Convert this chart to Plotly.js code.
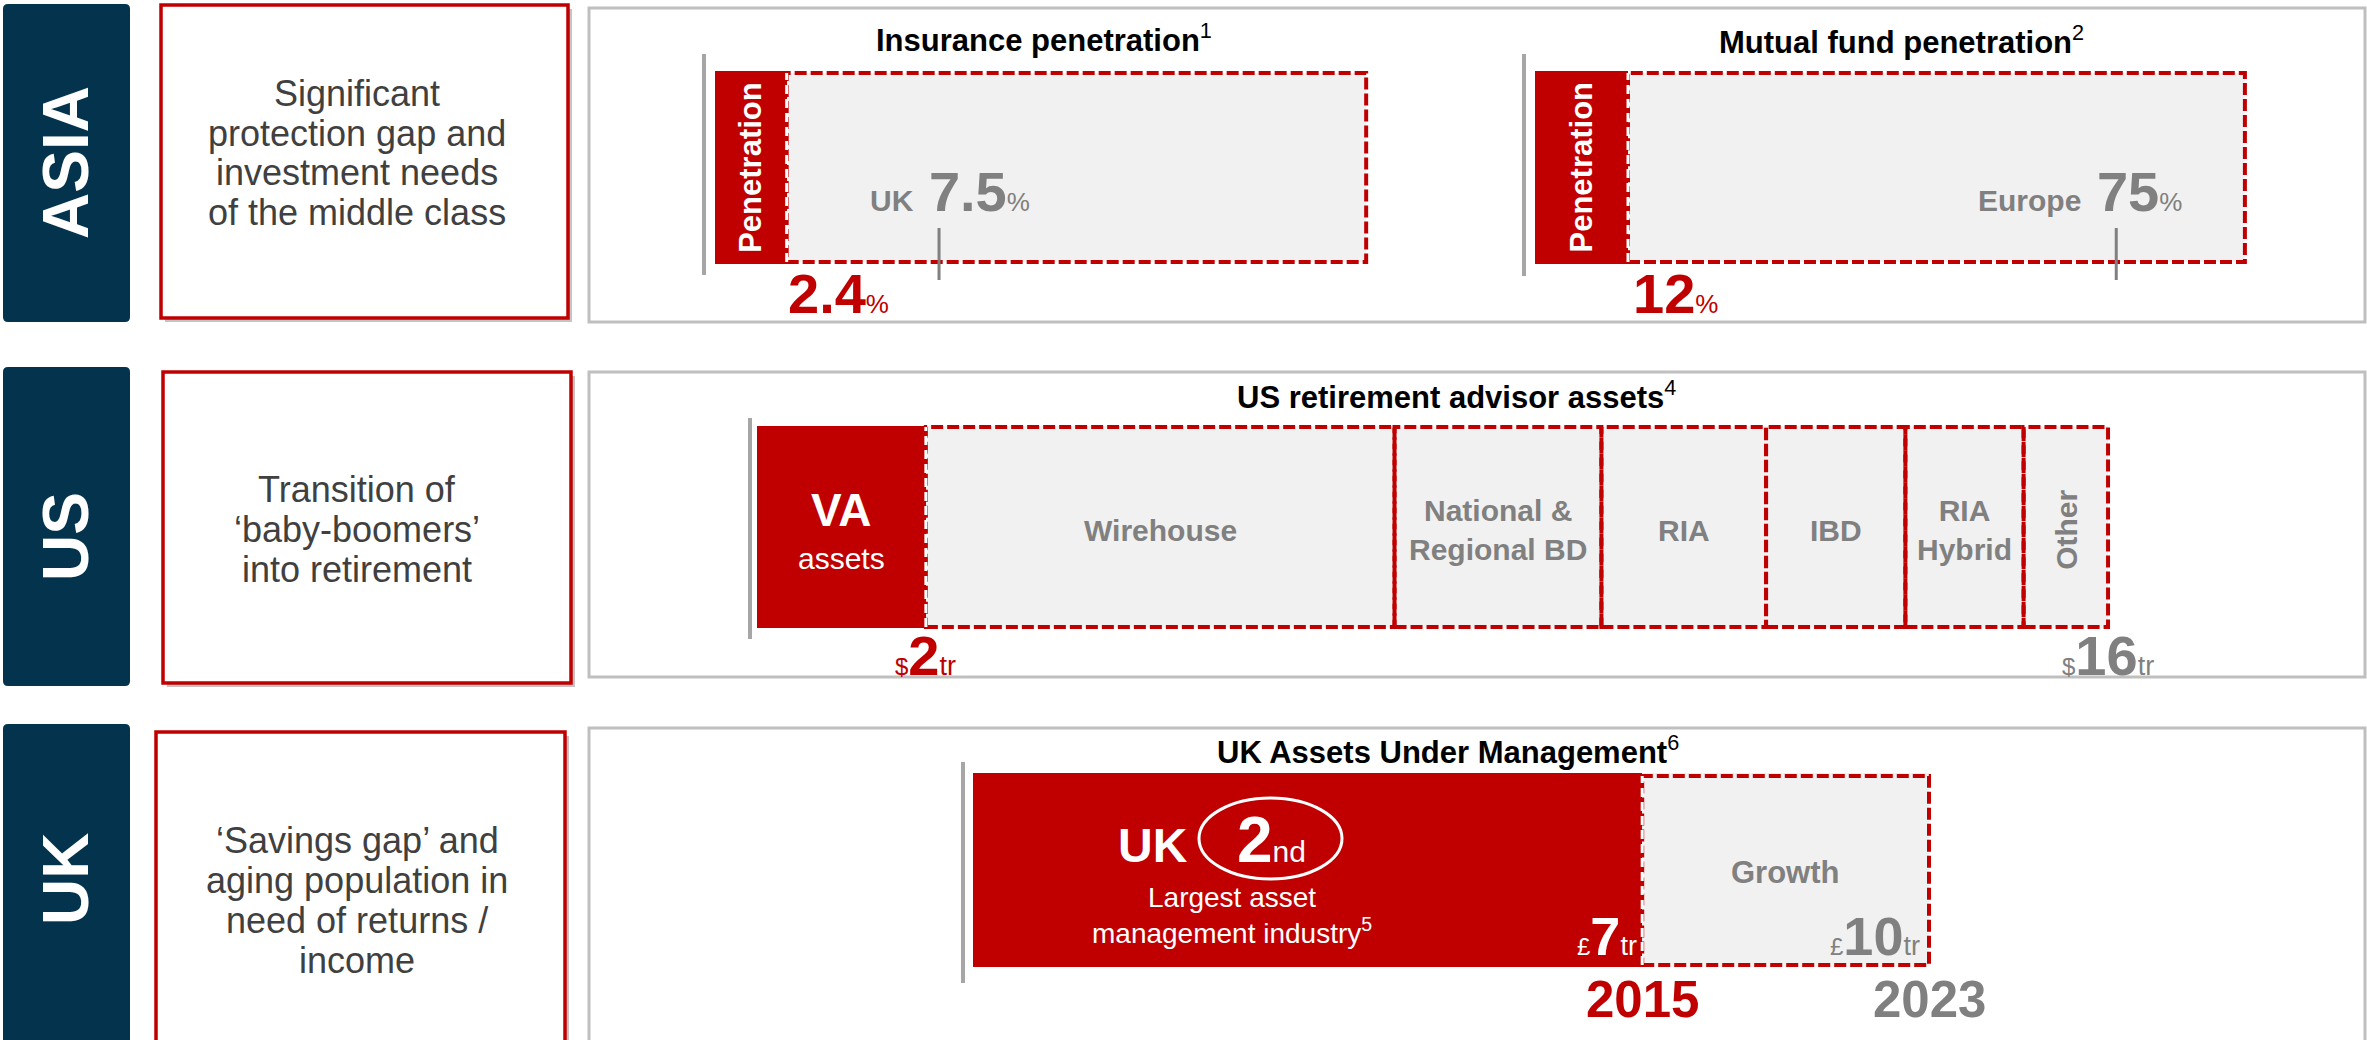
<!DOCTYPE html>
<html><head><meta charset="utf-8">
<script src="https://cdn.plot.ly/plotly-3.0.1.min.js"></script>
<style>html,body{margin:0;padding:0;background:#fff;overflow:hidden}#chart{width:2367px;height:1040px}</style>
</head><body><div id="chart"></div>
<script>
// ---------------- DATA ----------------
const regions = ['ASIA', 'US', 'UK'];
const regionThemes = [
  ['Significant', 'protection gap and', 'investment needs', 'of the middle class'],
  ['Transition of', '\u2018baby-boomers\u2019', 'into retirement'],
  ['\u2018Savings gap\u2019 and', 'aging population in', 'need of returns /', 'income']
];
const chartTitles = ['Insurance penetration', 'Mutual fund penetration', 'US retirement advisor assets', 'UK Assets Under Management'];
const chartNotes = ['1', '2', '4', '6'];
const insuranceLabels = ['Asia', 'UK'];
const insurancePenetration = [2.4, 7.5];     // %
const mutualFundLabels = ['Asia', 'Europe'];
const mutualFundPenetration = [12, 75];      // %
const usVaLabel = 'VA';
const usVaAssets = [2];                      // $tr
const usChannels = ['Wirehouse', 'National &<br>Regional BD', 'RIA', 'IBD', 'RIA<br>Hybrid', 'Other'];
const usChannelAssets = [5.55, 2.45, 1.95, 1.65, 1.4, 1.0];  // $tr
const ukYears = ['2015', '2023'];
const ukAum = [7, 10];                       // £tr

// ---------------- LAYOUT HELPERS ----------------
const W = 2367, H = 1040;
const fx = p => p / W, fy = p => 1 - p / H;
const RED = '#C00000', NAVY = '#04334E', GRAYTXT = '#808080', DARK = '#404040', FILL = '#F1F1F1';
const AXGRAY = '#A6A6A6', PANEL = '#BFBFBF';
const FONT = 'Liberation Sans, Arial, Helvetica, sans-serif';
const DASH = '12px,4px';
const DW = 4;

// chart geometry (pixels): position of value 0, pixels per unit, axis max, bar top/bottom
const G = {
  ins: {x0: 715, ppu: 29.87, max: 22.2, top: 71, bot: 264, boxEnd: 21.8},
  mf:  {x0: 1535, ppu: 7.75, max: 93.0, top: 71, bot: 264, boxEnd: 91.6},
  us:  {x0: 757, ppu: 84.44, max: 16.15, top: 426, bot: 628},
  uk:  {x0: 973, ppu: 95.6, max: 10.1, top: 773, bot: 967}
};
function xAx(c, anchor) {
  return {domain: [fx(c.x0), fx(c.x0 + c.ppu * c.max)], range: [0, c.max], visible: false, fixedrange: true, anchor: anchor};
}
function yAx(c, anchor) {
  return {domain: [fy(c.bot), fy(c.top)], range: [-0.5, 0.5], type: 'category', visible: false, fixedrange: true, anchor: anchor};
}

// ---------------- TRACES ----------------
const usBase = [];
{ let acc = usVaAssets[0]; usChannelAssets.forEach(v => { usBase.push(acc); acc += v; }); }
const usTotal = usVaAssets[0] + usChannelAssets.reduce((a, b) => a + b, 0);

const bar = (o) => Object.assign({type: 'bar', orientation: 'h', hoverinfo: 'skip', marker: {line: {width: 0}}}, o);
const traces = [
  bar({name: 'Insurance', xaxis: 'x', yaxis: 'y', y: [insuranceLabels[0]], x: [insurancePenetration[0]], base: [0], marker: {color: RED, line: {width: 0}}}),
  bar({name: 'Mutual fund', xaxis: 'x2', yaxis: 'y2', y: [mutualFundLabels[0]], x: [mutualFundPenetration[0]], base: [0], marker: {color: RED, line: {width: 0}}}),
  bar({name: 'US channels', xaxis: 'x3', yaxis: 'y3', y: usChannels.map(() => 'US'), x: usChannelAssets, base: usBase, marker: {color: FILL, line: {width: 0}}}),
  bar({name: 'VA assets', xaxis: 'x3', yaxis: 'y3', y: ['US'], x: usVaAssets, base: [0], marker: {color: RED, line: {width: 0}}}),
  bar({name: ukYears[0], xaxis: 'x4', yaxis: 'y4', y: ['UK'], x: [ukAum[0]], base: [0], marker: {color: RED, line: {width: 0}}}),
  bar({name: 'Growth', xaxis: 'x4', yaxis: 'y4', y: ['UK'], x: [ukAum[1] - ukAum[0]], base: [ukAum[0]], marker: {color: FILL, line: {width: 0}}})
];

// ---------------- SHAPES ----------------
const shapes = [];
function rectP(x0, y0, x1, y1, o) {
  shapes.push(Object.assign({type: 'rect', xref: 'paper', yref: 'paper', x0: fx(x0), x1: fx(x1), y0: fy(y1), y1: fy(y0), layer: 'below'}, o));
}
function roundPath(x0, y0, x1, y1, r) {
  const X = v => fx(v).toFixed(6), Y = v => fy(v).toFixed(6);
  return `M ${X(x0 + r)},${Y(y0)} L ${X(x1 - r)},${Y(y0)} Q ${X(x1)},${Y(y0)} ${X(x1)},${Y(y0 + r)} ` +
         `L ${X(x1)},${Y(y1 - r)} Q ${X(x1)},${Y(y1)} ${X(x1 - r)},${Y(y1)} L ${X(x0 + r)},${Y(y1)} ` +
         `Q ${X(x0)},${Y(y1)} ${X(x0)},${Y(y1 - r)} L ${X(x0)},${Y(y0 + r)} Q ${X(x0)},${Y(y0)} ${X(x0 + r)},${Y(y0)} Z`;
}
// right-hand panels
rectP(589, 8, 2365, 322, {fillcolor: '#fff', line: {color: PANEL, width: 3}});
rectP(589, 372, 2365, 677, {fillcolor: '#fff', line: {color: PANEL, width: 3}});
rectP(589, 728, 2365, 1070, {fillcolor: '#fff', line: {color: PANEL, width: 3}});
// theme boxes with shadow
const themeBoxes = [[161, 5, 568, 318], [163, 372, 571, 683], [156, 732, 565, 1070]];
themeBoxes.forEach(b => {
  rectP(b[0] + 4, b[1] + 4, b[2] + 4, b[3] + 4, {fillcolor: '#C4C4C4', line: {width: 0}});
  rectP(b[0], b[1], b[2], b[3], {fillcolor: '#fff', line: {color: RED, width: 3.5}});
});
// navy region tabs
[[3, 4, 130, 322], [3, 367, 130, 686], [3, 724, 130, 1080]].forEach(b => {
  shapes.push({type: 'path', xref: 'paper', yref: 'paper', path: roundPath(b[0], b[1], b[2], b[3], 5), fillcolor: NAVY, line: {width: 0}, layer: 'below'});
});
// axis baselines
[[704, 54, 275], [1524, 54, 276], [750, 418, 639], [963, 762, 983]].forEach(a => {
  shapes.push({type: 'line', xref: 'paper', yref: 'paper', x0: fx(a[0]), x1: fx(a[0]), y0: fy(a[2]), y1: fy(a[1]), line: {color: AXGRAY, width: 4}, layer: 'below'});
});
// potential boxes for penetration charts
shapes.push({type: 'rect', xref: 'x', yref: 'paper', x0: insurancePenetration[0], x1: G.ins.boxEnd, y0: fy(262), y1: fy(73), fillcolor: FILL, line: {color: RED, width: DW, dash: DASH}, layer: 'below'});
shapes.push({type: 'rect', xref: 'x2', yref: 'paper', x0: mutualFundPenetration[0], x1: G.mf.boxEnd, y0: fy(262), y1: fy(73), fillcolor: FILL, line: {color: RED, width: DW, dash: DASH}, layer: 'below'});
// benchmark ticks
shapes.push({type: 'line', xref: 'x', yref: 'paper', x0: insurancePenetration[1], x1: insurancePenetration[1], y0: fy(280), y1: fy(228), line: {color: GRAYTXT, width: 3}, layer: 'above'});
shapes.push({type: 'line', xref: 'x2', yref: 'paper', x0: mutualFundPenetration[1], x1: mutualFundPenetration[1], y0: fy(280), y1: fy(228), line: {color: GRAYTXT, width: 3}, layer: 'above'});
// US channel dashed outlines
usChannelAssets.forEach((v, i) => {
  shapes.push({type: 'rect', xref: 'x3', yref: 'paper', x0: usBase[i], x1: usBase[i] + v, y0: fy(627), y1: fy(427), fillcolor: 'rgba(0,0,0,0)', line: {color: RED, width: DW, dash: DASH}, layer: 'above'});
});
// UK growth outline
shapes.push({type: 'rect', xref: 'x4', yref: 'paper', x0: ukAum[0], x1: ukAum[1], y0: fy(965), y1: fy(776), fillcolor: 'rgba(0,0,0,0)', line: {color: RED, width: DW, dash: DASH}, layer: 'above'});
// white dashed boundaries at red bar ends
[['x', insurancePenetration[0], 73, 262], ['x2', mutualFundPenetration[0], 73, 262], ['x3', usVaAssets[0], 427, 627], ['x4', ukAum[0], 776, 965]].forEach(b => {
  shapes.push({type: 'line', xref: b[0], yref: 'paper', x0: b[1], x1: b[1], y0: fy(b[3]), y1: fy(b[2]), line: {color: '#fff', width: 3, dash: '9px,5px'}, layer: 'above'});
});
// ellipse around "2nd"
shapes.push({type: 'circle', xref: 'paper', yref: 'paper', x0: fx(1199), x1: fx(1342), y0: fy(879), y1: fy(798), line: {color: '#fff', width: 3}, fillcolor: 'rgba(0,0,0,0)', layer: 'above'});

// ---------------- ANNOTATIONS ----------------
const ann = [];
function A(o, size, color) {
  ann.push(Object.assign({showarrow: false, borderpad: 0, xanchor: 'center', yanchor: 'middle', font: {family: FONT, size: size, color: color}}, o));
}
const P = (xp, yp) => ({xref: 'paper', yref: 'paper', x: fx(xp), y: fy(yp)});

// region tabs
const regionLabelY = [163, 537, 879];
regions.forEach((r, i) => A(Object.assign(P(66, regionLabelY[i]), {text: '<b>' + r + '</b>', textangle: -90}), 64, '#ffffff'));
// themes
const themeFirstY = [93, 489, 840];
regionThemes.forEach((lines, i) => lines.forEach((t, j) => A(Object.assign(P(357, themeFirstY[i] + 40 * j), {text: t}), 36, DARK)));
// chart titles
const titlePos = [[1044, 38], [1901, 40], [1456, 395], [1448, 750]];
chartTitles.forEach((t, i) => A(Object.assign(P(titlePos[i][0], titlePos[i][1]), {text: '<b>' + t + '</b><sup>' + chartNotes[i] + '</sup>'}), 31, '#000000'));

// insurance
A({xref: 'x', yref: 'paper', x: insurancePenetration[0] / 2, y: fy(167), text: '<b>Penetration</b>', textangle: -90}, 31, '#ffffff');
A({xref: 'x', yref: 'paper', x: insurancePenetration[1], xshift: 11, y: fy(191),
   text: '<b><span style="font-size:30px">' + insuranceLabels[1] + '</span> ' + insurancePenetration[1].toFixed(1) + '</b><span style="font-size:26px">%</span>'}, 56, GRAYTXT);
A({xref: 'x', yref: 'paper', x: insurancePenetration[0], xanchor: 'left', y: fy(293),
   text: '<b>' + insurancePenetration[0].toFixed(1) + '</b><span style="font-size:26px">%</span>'}, 56, RED);
// mutual fund
A({xref: 'x2', yref: 'paper', x: mutualFundPenetration[0] / 2, y: fy(167), text: '<b>Penetration</b>', textangle: -90}, 31, '#ffffff');
A({xref: 'x2', yref: 'paper', x: mutualFundPenetration[1], xshift: -36, y: fy(191),
   text: '<b><span style="font-size:30px">' + mutualFundLabels[1] + '</span> ' + mutualFundPenetration[1] + '</b><span style="font-size:26px">%</span>'}, 56, GRAYTXT);
A({xref: 'x2', yref: 'paper', x: mutualFundPenetration[0], xanchor: 'left', xshift: 4, y: fy(293),
   text: '<b>' + mutualFundPenetration[0] + '</b><span style="font-size:26px">%</span>'}, 56, RED);

// US
A({xref: 'x3', yref: 'paper', x: usVaAssets[0] / 2, y: fy(510), text: '<b>' + usVaLabel + '</b>'}, 46, '#ffffff');
A({xref: 'x3', yref: 'paper', x: usVaAssets[0] / 2, y: fy(558), text: 'assets'}, 30, '#ffffff');
usChannels.forEach((c, i) => {
  const isOther = c === 'Other';
  A({xref: 'x3', yref: 'paper', x: usBase[i] + usChannelAssets[i] / 2, y: fy(530), text: '<b>' + c + '</b>', textangle: isOther ? -90 : 0}, 30, GRAYTXT);
});
const money = (cur, num, unit) => '<span style="font-size:24px">' + cur + '</span><b>' + num + '</b><span style="font-size:27px">' + unit + '</span>';
A({xref: 'x3', yref: 'paper', x: usVaAssets[0], y: fy(655), text: money('$', usVaAssets[0], 'tr')}, 56, RED);
A({xref: 'x3', yref: 'paper', x: usTotal, y: fy(655), text: money('$', usTotal, 'tr')}, 56, GRAYTXT);

// UK
A(Object.assign(P(1153, 845), {text: '<b>UK</b>'}), 48, '#ffffff');
A(Object.assign(P(1271, 840), {text: '<b>2</b><span style="font-size:30px">nd</span>'}), 64, '#ffffff');
A(Object.assign(P(1232, 897), {text: 'Largest asset'}), 28, '#ffffff');
A(Object.assign(P(1232, 931), {text: 'management industry<sup>5</sup>'}), 28, '#ffffff');
A({xref: 'x4', yref: 'paper', x: ukAum[0], xanchor: 'right', xshift: -4, y: fy(936), text: money('£', ukAum[0], 'tr')}, 54, '#ffffff');
A({xref: 'x4', yref: 'paper', x: ukAum[1], xanchor: 'right', xshift: -8, y: fy(936), text: money('£', ukAum[1], 'tr')}, 54, GRAYTXT);
A({xref: 'x4', yref: 'paper', x: (ukAum[0] + ukAum[1]) / 2, y: fy(872), text: '<b>Growth</b>'}, 31, GRAYTXT);
A({xref: 'x4', yref: 'paper', x: ukAum[0], y: fy(999), text: '<b>' + ukYears[0] + '</b>'}, 51, RED);
A({xref: 'x4', yref: 'paper', x: ukAum[1], y: fy(999), text: '<b>' + ukYears[1] + '</b>'}, 51, GRAYTXT);

// ---------------- LAYOUT ----------------
const layout = {
  width: W, height: H,
  margin: {l: 0, r: 0, t: 0, b: 0, pad: 0},
  paper_bgcolor: '#ffffff', plot_bgcolor: 'rgba(0,0,0,0)',
  showlegend: false, hovermode: false,
  barmode: 'overlay', bargap: 0,
  font: {family: FONT},
  xaxis: xAx(G.ins, 'y'), yaxis: yAx(G.ins, 'x'),
  xaxis2: xAx(G.mf, 'y2'), yaxis2: yAx(G.mf, 'x2'),
  xaxis3: xAx(G.us, 'y3'), yaxis3: yAx(G.us, 'x3'),
  xaxis4: xAx(G.uk, 'y4'), yaxis4: yAx(G.uk, 'x4'),
  shapes: shapes,
  annotations: ann
};
Plotly.newPlot('chart', traces, layout, {staticPlot: true, displayModeBar: false});
</script>
</body></html>
